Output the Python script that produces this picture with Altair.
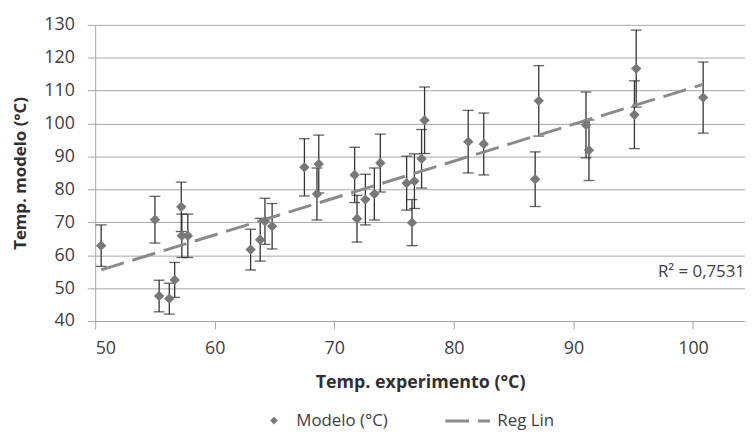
import altair as alt
import pandas as pd

# ---- data ----
exp_temp = [50.5, 55.0, 55.35, 56.2, 56.65, 57.2, 57.25, 57.75, 63.0, 63.8, 64.2, 64.8,
            67.5, 68.55, 68.7, 71.7, 71.9, 72.6, 73.35, 73.85, 76.05, 76.5, 76.7, 77.3,
            77.55, 81.2, 82.5, 86.8, 87.1, 91.05, 91.3, 95.1, 95.25, 100.85]
model_temp = [62.9, 70.8, 47.6, 46.8, 52.5, 74.7, 65.9, 65.9, 61.7, 64.7, 70.3, 68.8,
              86.7, 78.6, 87.7, 84.4, 71.1, 76.9, 78.6, 88.0, 81.9, 69.9, 82.5, 89.3,
              101.0, 94.5, 93.8, 83.1, 106.9, 99.6, 91.9, 102.7, 116.7, 107.9]
model_err = [6.3, 7.1, 4.8, 4.7, 5.3, 7.5, 6.6, 6.6, 6.2, 6.5, 7.0, 6.9,
             8.7, 7.9, 8.8, 8.4, 7.1, 7.7, 7.9, 8.8, 8.2, 7.0, 8.3, 8.9,
             10.1, 9.5, 9.4, 8.3, 10.7, 10.0, 9.2, 10.3, 11.7, 10.8]
x_ticks = [50, 60, 70, 80, 90, 100]
y_ticks = [40, 50, 60, 70, 80, 90, 100, 110, 120, 130]
series_points = "Modelo (°C)"
series_line = "Reg Lin"
r2_label = "R² = 0,7531"
x_title = "Temp. experimento (°C)"
y_title = "Temp. modelo (°C)"

df = pd.DataFrame({"exp": exp_temp, "mod": model_temp, "err": model_err})
df["lo"] = df["mod"] - df["err"]
df["hi"] = df["mod"] + df["err"]
df["serie_p"] = series_points

FONT = "Open Sans"
TXT = "#404040"
GRID = "#a6a6a6"
W, H = 656, 299

x_scale = alt.Scale(domain=[50, 104.35], nice=False, zero=False)
y_scale = alt.Scale(domain=[40, 130], nice=False, zero=False)

x_axis = alt.Axis(
    title=x_title, values=x_ticks, grid=False, domainColor=GRID, tickColor=GRID,
    tickSize=8, labelPadding=11, labelFont=FONT, labelFontSize=18, labelColor=TXT,
    titleFont=FONT, titleFontSize=18, titleFontWeight="bold", titleColor="#303030",
    titleX=W / 2, titleY=62, titleAlign="center", titleBaseline="middle",
)
y_axis = alt.Axis(
    title=y_title, values=y_ticks, grid=True, gridColor=GRID, domainColor=GRID,
    tickColor=GRID, tickSize=8, labelPadding=13, labelFont=FONT, labelFontSize=18,
    labelColor=TXT, titleFont=FONT, titleFontSize=17, titleFontWeight="bold",
    titleColor="#303030", titleX=-75, titleY=H / 2, titleAlign="center",
    titleBaseline="middle",
)

X = alt.X("exp:Q", scale=x_scale, axis=x_axis)

base = alt.Chart(df)

bars = base.mark_rule(color="#333333", strokeWidth=1.3).encode(
    x=X, y=alt.Y("lo:Q", scale=y_scale, axis=y_axis), y2="hi:Q"
)
cap_hi = base.mark_tick(orient="horizontal", size=11, thickness=1.3, color="#222222").encode(
    x=X, y=alt.Y("hi:Q", scale=y_scale, axis=y_axis)
)
cap_lo = base.mark_tick(orient="horizontal", size=11, thickness=1.3, color="#222222").encode(
    x=X, y=alt.Y("lo:Q", scale=y_scale, axis=y_axis)
)

points = base.mark_point(filled=True, size=110, color="#787878", opacity=1).encode(
    x=X,
    y=alt.Y("mod:Q", scale=y_scale, axis=y_axis),
    shape=alt.Shape(
        "serie_p:N",
        scale=alt.Scale(domain=[series_points], range=["diamond"]),
        legend=alt.Legend(
            title=None, orient="none", legendX=172, legendY=391, padding=0,
            symbolSize=60, symbolFillColor="#787878", symbolStrokeWidth=0,
            labelFont=FONT, labelFontSize=17, labelColor=TXT, labelOffset=14,
        ),
    ),
)

reg = (
    base.transform_regression("exp", "mod")
    .transform_calculate(serie_l="'" + series_line + "'")
    .mark_line(color="#8a8a8a", strokeWidth=3)
    .encode(
        x=X,
        y=alt.Y("mod:Q", scale=y_scale, axis=y_axis),
        strokeDash=alt.StrokeDash(
            "serie_l:N",
            scale=alt.Scale(domain=[series_line], range=[[24, 9]]),
            legend=alt.Legend(
                title=None, orient="none", legendX=352, legendY=376, padding=0,
                symbolType="stroke", symbolSize=2025, symbolStrokeWidth=3,
                symbolStrokeColor="#8a8a8a", symbolDash=[19, 7],
                labelFont=FONT, labelFontSize=17, labelColor=TXT, labelOffset=6,
            ),
        ),
    )
)

r2 = alt.Chart(pd.DataFrame({"label": [r2_label]})).mark_text(
    align="right", baseline="middle", font=FONT, fontSize=17, color=TXT
).encode(text="label:N", x=alt.value(W), y=alt.value(250))

chart = (
    alt.layer(bars, cap_hi, cap_lo, reg, points, r2)
    .resolve_legend(shape="independent", strokeDash="independent")
    .properties(
        width=W, height=H,
        autosize=alt.AutoSizeParams(type="none"),
        padding={"left": 88, "top": 15, "right": 0, "bottom": 108},
    )
    .configure_view(stroke=None)
)

chart.save("out.html", embed_options={"renderer": "svg", "actions": False})
